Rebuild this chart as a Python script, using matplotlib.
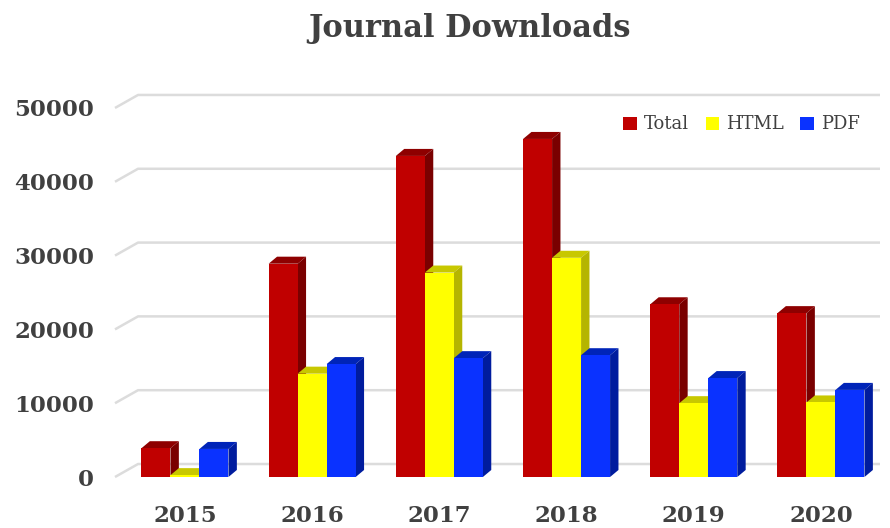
import matplotlib
matplotlib.use("Agg")
import matplotlib.pyplot as plt
from matplotlib.patches import Polygon

years = ["2015", "2016", "2017", "2018", "2019", "2020"]
series_names = ["Total", "HTML", "PDF"]
total = [3900, 28900, 43500, 45800, 23400, 22200]
html = [250, 14000, 27700, 29700, 10000, 10100]
pdf = [3800, 15300, 16100, 16500, 13400, 11800]
yticks = [0, 10000, 20000, 30000, 40000, 50000]

front_cols = ["#C00000", "#FFFF00", "#0A32FF"]
side_cols = ["#7A0000", "#B5B500", "#001C9E"]
top_cols = ["#8E0000", "#C8C800", "#0024B8"]

fig = plt.figure(figsize=(8.9, 5.28), dpi=100)
ax = fig.add_axes([115/890, 51/528, 765/890, 387.5/528])
xmin, xmax = -0.55, 5.464
ymax = 52500
ax.set_xlim(xmin, xmax)
ax.set_ylim(0, ymax)

# back wall gridlines with perspective offset
gdx, gdy = 0.181, 1760
for v in yticks:
    ax.plot([xmin, xmin + gdx, xmax], [v, v + gdy, v + gdy], color="#DCDCDC",
            lw=1.8, clip_on=False, zorder=1, solid_capstyle="butt")

w = 0.228
bdx, bdy = 0.066, 950
xs = list(range(len(years)))
for i, (vals, fc, sc, tc) in enumerate(zip([total, html, pdf], front_cols, side_cols, top_cols)):
    pos = [x + (i - 1) * w for x in xs]
    bars = ax.bar(pos, vals, width=w, color=fc, zorder=3 + i * 3, label=series_names[i],
                  linewidth=0)
    for r in bars.patches:
        l, h = r.get_x(), r.get_height()
        top = Polygon([(l, h), (l + w, h), (l + w + bdx, h + bdy), (l + bdx, h + bdy)],
                      closed=True, facecolor=tc, edgecolor="none", zorder=2 + i * 3, clip_on=False)
        side = Polygon([(l + w, 0), (l + w + bdx, bdy), (l + w + bdx, h + bdy), (l + w, h)],
                       closed=True, facecolor=sc, edgecolor="none", zorder=2 + i * 3, clip_on=False)
        ax.add_patch(top)
        ax.add_patch(side)

for s in ax.spines.values():
    s.set_visible(False)
ax.set_yticks(yticks)
ax.set_yticklabels([str(v) for v in yticks])
ax.set_xticks(xs)
ax.set_xticklabels(years)
ax.tick_params(length=0)
ax.tick_params(axis="y", pad=15)
ax.tick_params(axis="x", pad=20)
for lab in ax.get_yticklabels() + ax.get_xticklabels():
    lab.set_fontfamily("DejaVu Serif")
    lab.set_fontweight("bold")
    lab.set_fontsize(16.5)
    lab.set_color("#404040")

fig.text(470/890, 1 - 28/528, "Journal Downloads", ha="center", va="center",
         fontfamily="DejaVu Serif", fontweight="bold", fontsize=22, color="#404040")

leg = ax.legend(loc="upper right", bbox_to_anchor=(0.995, 0.975), ncol=3, frameon=False,
                prop={"family": "DejaVu Serif", "size": 13}, handlelength=0.75,
                handleheight=0.75, handletextpad=0.4, columnspacing=0.9)
for t in leg.get_texts():
    t.set_color("#404040")

fig.savefig("out.png", dpi=100)
